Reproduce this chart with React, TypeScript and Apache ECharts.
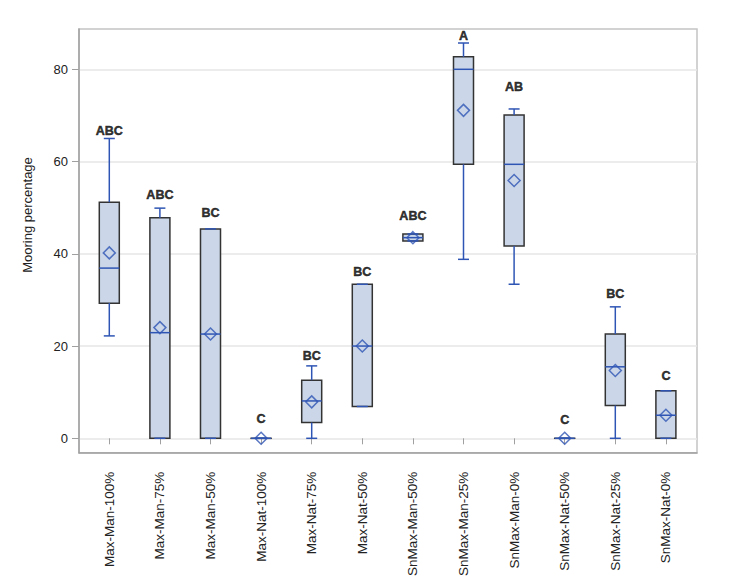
import React, { useEffect, useRef } from "react";
import * as echarts from "echarts";

const categories = [
  "Max-Man-100%", "Max-Man-75%", "Max-Man-50%", "Max-Nat-100%", "Max-Nat-75%", "Max-Nat-50%",
  "SnMax-Man-50%", "SnMax-Man-25%", "SnMax-Man-0%", "SnMax-Nat-50%", "SnMax-Nat-25%", "SnMax-Nat-0%",
];
const minV = [22.2, 0, 0, 0, 0, 6.9, 42.8, 38.8, 33.4, 0, 0, 0];
const q1V = [29.3, 0, 0, 0, 3.4, 6.9, 42.8, 59.4, 41.7, 0, 7.1, 0];
const medV = [36.9, 22.9, 22.6, 0, 8.1, 20.0, 43.5, 80.0, 59.4, 0, 15.5, 5.0];
const q3V = [51.2, 47.8, 45.4, 0, 12.6, 33.4, 44.3, 82.7, 70.1, 0, 22.6, 10.3];
const maxV = [65.0, 49.9, 45.4, 0, 15.7, 33.4, 44.3, 85.7, 71.4, 0, 28.5, 10.3];
const meanV = [40.2, 24.0, 22.6, 0, 7.9, 20.0, 43.5, 71.1, 55.9, 0, 14.7, 5.0];
const letters = ["ABC", "ABC", "BC", "C", "BC", "BC", "ABC", "A", "AB", "C", "BC", "C"];
const letterY = [66.7, 52.7, 48.9, 4.1, 17.9, 36.0, 48.2, 87.2, 76.1, 4.0, 31.3, 13.6];
const yTicks = { min: 0, max: 80, interval: 20 };

const FONT = "'Liberation Sans', Arial, sans-serif";
const BLUE = "#2f55b4";
const FILL = "#cbd7e8";
const EDGE = "#333333";

export default function App() {
  const ref = useRef<HTMLDivElement>(null);
  useEffect(() => {
    if (!ref.current) return;
    const chart = echarts.init(ref.current, null, { renderer: "svg" });
    const boxData = categories.map((_, i) => [i, minV[i], q1V[i], medV[i], q3V[i], maxV[i]]);
    const option: any = {
      animation: false,
      textStyle: { fontFamily: FONT },
      grid: [
        { left: 79, top: 29, width: 618, height: 423.7, show: true, borderColor: "#c4c4c4", borderWidth: 1.5, backgroundColor: "transparent" },
        { left: 79, top: 69.3, width: 618, height: 369 },
        { left: 84, top: 69.3, width: 607.2, height: 383.4 },
      ],
      xAxis: [
        { gridIndex: 0, type: "value", min: 0, max: 1, axisLine: { show: true, lineStyle: { color: "#a0a0a0", width: 1.5 } }, axisTick: { show: false }, axisLabel: { show: false }, splitLine: { show: false } },
        { gridIndex: 1, type: "value", min: 0, max: 1, show: false },
        {
          gridIndex: 2, type: "category", data: categories, boundaryGap: true,
          axisLine: { show: false },
          axisTick: { show: true, alignWithLabel: true, length: 6, lineStyle: { color: "#a0a0a0" } },
          axisLabel: { rotate: 90, margin: 19, fontSize: 13.5, color: "#222", fontFamily: FONT, interval: 0 },
          splitLine: { show: false },
        },
      ],
      yAxis: [
        { gridIndex: 0, type: "value", min: 0, max: 1, axisLine: { show: true, lineStyle: { color: "#a0a0a0", width: 1.5 } }, axisTick: { show: false }, axisLabel: { show: false }, splitLine: { show: false } },
        {
          gridIndex: 1, type: "value", min: yTicks.min, max: yTicks.max, interval: yTicks.interval,
          axisLine: { show: false },
          axisTick: { show: true, length: 7, lineStyle: { color: "#a0a0a0" } },
          axisLabel: { margin: 11, fontSize: 13, color: "#222", fontFamily: FONT },
          splitLine: { show: true, lineStyle: { color: "#e6e6e6", width: 1.5 } },
        },
        { gridIndex: 2, type: "value", min: -3.122, max: 80, show: false },
      ],
      graphic: [
        {
          type: "text", x: 27.5, y: 215, rotation: Math.PI / 2,
          style: { text: "Mooring percentage", fill: "#222", font: `13px ${FONT}`, textAlign: "center", textVerticalAlign: "middle" },
        },
      ],
      series: [
        {
          type: "custom", xAxisIndex: 2, yAxisIndex: 2, data: boxData, clip: false,
          encode: { x: 0, y: [1, 2, 3, 4, 5] },
          renderItem: (params: any, api: any) => {
            const idx = api.value(0);
            const pMin = api.coord([idx, api.value(1)]);
            const pQ1 = api.coord([idx, api.value(2)]);
            const pMed = api.coord([idx, api.value(3)]);
            const pQ3 = api.coord([idx, api.value(4)]);
            const pMax = api.coord([idx, api.value(5)]);
            const x = pMed[0];
            const hw = 10;
            const cw = 5.5;
            const children: any[] = [];
            children.push({
              type: "rect",
              shape: { x: x - hw, y: pQ3[1], width: hw * 2, height: Math.max(pQ1[1] - pQ3[1], 0.01) },
              style: { fill: FILL, stroke: EDGE, lineWidth: 1.5 },
            });
            children.push({ type: "line", shape: { x1: x - hw, y1: pMed[1], x2: x + hw, y2: pMed[1] }, style: { stroke: BLUE, lineWidth: 1.5 } });
            if (pMax[1] < pQ3[1]) children.push({ type: "line", shape: { x1: x, y1: pQ3[1], x2: x, y2: pMax[1] }, style: { stroke: BLUE, lineWidth: 1.5 } });
            if (pMin[1] > pQ1[1]) children.push({ type: "line", shape: { x1: x, y1: pQ1[1], x2: x, y2: pMin[1] }, style: { stroke: BLUE, lineWidth: 1.5 } });
            children.push({ type: "line", shape: { x1: x - cw, y1: pMax[1], x2: x + cw, y2: pMax[1] }, style: { stroke: BLUE, lineWidth: 1.5 } });
            children.push({ type: "line", shape: { x1: x - cw, y1: pMin[1], x2: x + cw, y2: pMin[1] }, style: { stroke: BLUE, lineWidth: 1.5 } });
            return { type: "group", children };
          },
        },
        {
          type: "scatter", xAxisIndex: 2, yAxisIndex: 2, clip: false,
          data: meanV.map((v, i) => [i, v]),
          symbol: "diamond", symbolSize: [12, 12],
          itemStyle: { color: "rgba(0,0,0,0)", borderColor: BLUE, borderWidth: 1.5 },
          z: 5,
        },
        {
          type: "scatter", xAxisIndex: 2, yAxisIndex: 2, clip: false,
          data: letterY.map((v, i) => [i, v]),
          symbolSize: 0,
          label: {
            show: true, position: "inside",
            formatter: (p: any) => letters[p.dataIndex],
            fontSize: 12.5, fontWeight: "bold", color: "#000", fontFamily: FONT,
            textBorderColor: "#000", textBorderWidth: 0.5,
          },
          z: 6,
        },
      ],
    };
    chart.setOption(option);
    return () => chart.dispose();
  }, []);
  return <div ref={ref} style={{ position: "fixed", left: 0, top: 0, width: 737, height: 586, background: "#fff" }} />;
}
